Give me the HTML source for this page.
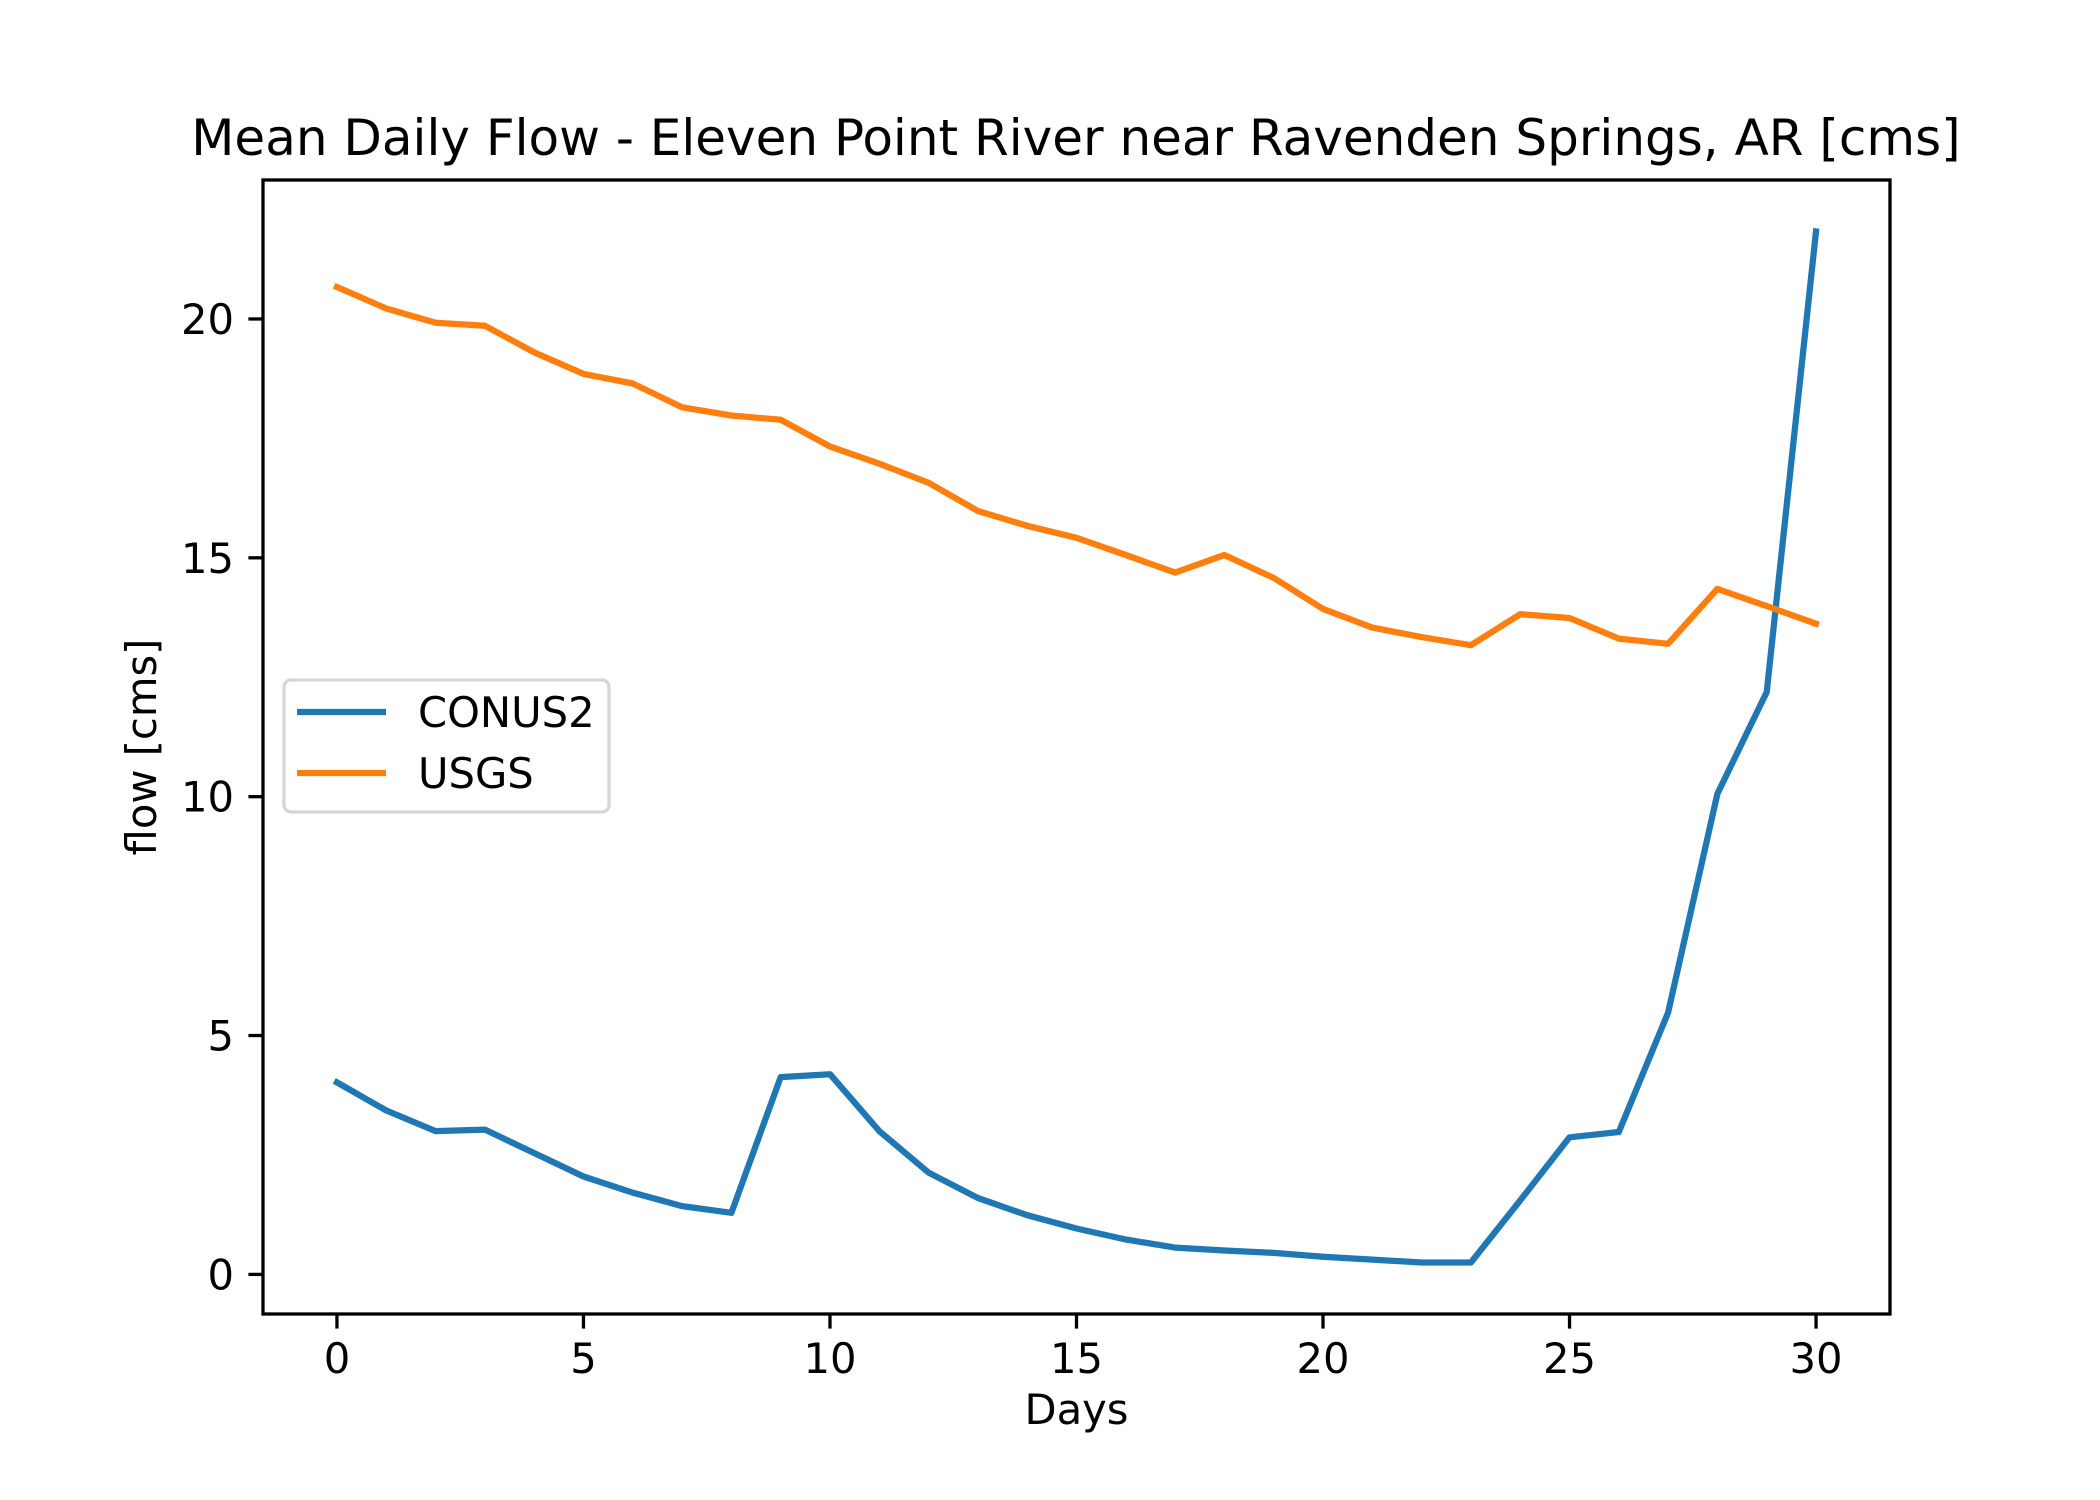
<!DOCTYPE html>
<html><head><meta charset="utf-8"><style>
html,body{margin:0;padding:0;background:#fff}
svg{display:block}
text{font-family:"DejaVu Sans","Liberation Sans",sans-serif;fill:#000}
</style></head><body>
<svg id="chart" width="2100" height="1500" viewBox="0 0 2100 1500" xmlns="http://www.w3.org/2000/svg">
<rect width="2100" height="1500" fill="#fff"/>
<text x="1076" y="155" font-size="50" text-anchor="middle">Mean Daily Flow - Eleven Point River near Ravenden Springs, AR [cms]</text>
<g id="plot"></g>
</svg>
<script>
const days = [0,1,2,3,4,5,6,7,8,9,10,11,12,13,14,15,16,17,18,19,20,21,22,23,24,25,26,27,28,29,30];
const conus2 = [4.02,3.43,3.0,3.03,2.54,2.05,1.71,1.43,1.29,4.13,4.19,3.0,2.13,1.6,1.24,0.96,0.73,0.56,0.5,0.45,0.37,0.31,0.25,0.25,1.55,2.87,2.98,5.48,10.06,12.19,21.83];
const usgs = [20.67,20.22,19.92,19.86,19.3,18.85,18.65,18.15,17.98,17.89,17.33,16.97,16.57,15.98,15.67,15.42,15.06,14.69,15.06,14.58,13.93,13.54,13.34,13.17,13.82,13.74,13.31,13.2,14.35,13.99,13.62];
const xTicks = [0,5,10,15,20,25,30];
const yTicks = [0,5,10,15,20];

const NS='http://www.w3.org/2000/svg';
const g=document.getElementById('plot');
const L=263,R=1890,T=180,B=1314;
const allY=conus2.concat(usgs);
const ymin0=Math.min(...allY), ymax0=Math.max(...allY);
const ypad=(ymax0-ymin0)*0.05;
const ymin=ymin0-ypad, ymax=ymax0+ypad;
const xmin0=Math.min(...days), xmax0=Math.max(...days);
const xpad=(xmax0-xmin0)*0.05;
const xmin=xmin0-xpad, xmax=xmax0+xpad;
function sx(v){return L+(v-xmin)/(xmax-xmin)*(R-L);}
function sy(v){return B-(v-ymin)/(ymax-ymin)*(B-T);}
function mk(tag,attrs){const e=document.createElementNS(NS,tag);for(const k in attrs)e.setAttribute(k,attrs[k]);g.appendChild(e);return e;}

function series(vals,color,name){
  const pts=vals.map((v,i)=>sx(days[i]).toFixed(1)+','+sy(v).toFixed(1)).join(' ');
  const p=mk('polyline',{points:pts,fill:'none',stroke:color,'stroke-width':6.25,'stroke-linejoin':'round','stroke-linecap':'square'});
  
  
}
series(conus2,'#1f77b4','conus2-line');
series(usgs,'#ff7f0e','usgs-line');

const frame=mk('rect',{x:L,y:T,width:R-L,height:B-T,fill:'none',stroke:'#000','stroke-width':3.3});



xTicks.forEach(t=>{
  const x=sx(t);
  const tk=mk('line',{x1:x,y1:B,x2:x,y2:B+14.6,stroke:'#000','stroke-width':3.3});
  
  
  const lb=mk('text',{x:x,y:B+59,'font-size':41.7,'text-anchor':'middle'});
  lb.textContent=t;
  
  
});
yTicks.forEach(t=>{
  const y=sy(t);
  const tk=mk('line',{x1:L-14.6,y1:y,x2:L,y2:y,stroke:'#000','stroke-width':3.3});
  
  
  const lb=mk('text',{x:L-29,y:y+15,'font-size':41.7,'text-anchor':'end'});
  lb.textContent=t;
  
  
});

const xl=mk('text',{x:(L+R)/2,y:1424,'font-size':41.7,'text-anchor':'middle'});
xl.textContent='Days';


const yl=mk('text',{x:0,y:0,'font-size':41.7,'text-anchor':'middle',transform:'translate(156,'+((T+B)/2)+') rotate(-90)'});
yl.textContent='flow [cms]';



const lg=mk('rect',{x:284,y:680,width:325,height:132,rx:7,fill:'#fff','fill-opacity':0.8,stroke:'#d6d6d6','stroke-width':3.3});


[['CONUS2','#1f77b4',712],['USGS','#ff7f0e',773]].forEach(([n,c,y])=>{
  const ln=mk('line',{x1:297,y1:y,x2:386,y2:y,stroke:c,'stroke-width':6.25});
  
  
  const tx=mk('text',{x:418,y:y+15,'font-size':41.7});
  tx.textContent=n;
  
  
});
</script>
</body></html>
